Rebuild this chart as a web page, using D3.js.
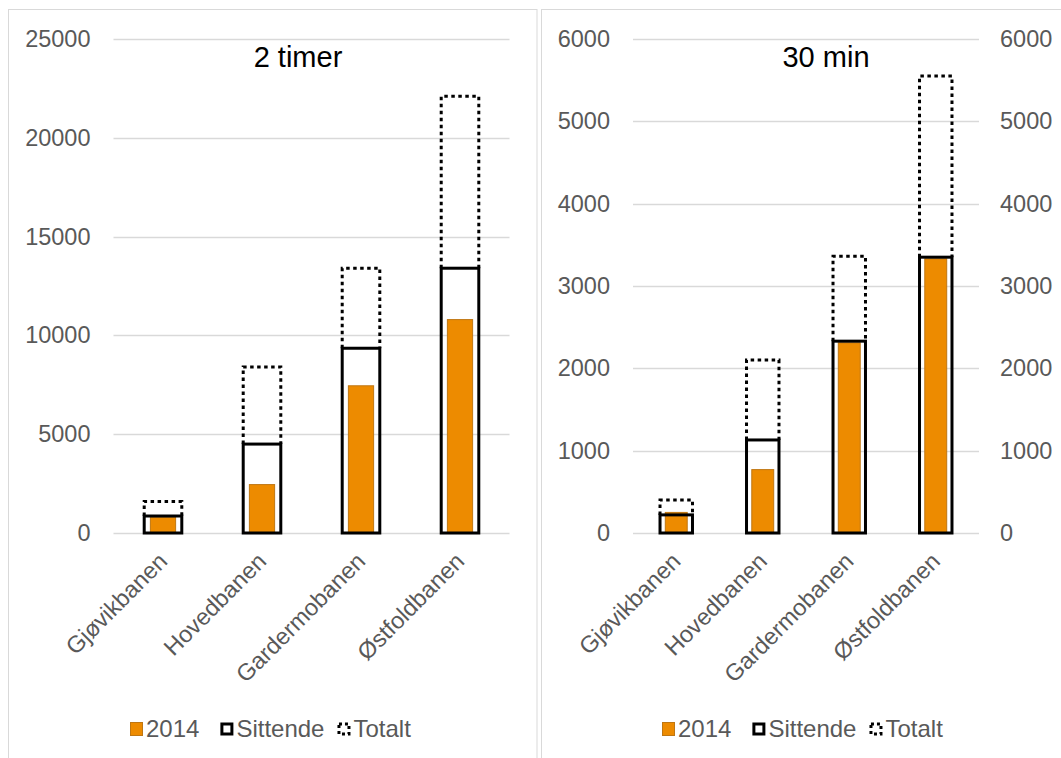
<!DOCTYPE html>
<html>
<head>
<meta charset="utf-8">
<script src="https://cdn.jsdelivr.net/npm/d3@7"></script>
<style>
  html, body { margin: 0; padding: 0; background: #fff; }
  svg { display: block; font-family: "Liberation Sans", Arial, sans-serif; }
</style>
</head>
<body>
<svg id="chart" width="1061" height="758"></svg>
<script>
// ---- Data ----
const categories = ["Gjøvikbanen", "Hovedbanen", "Gardermobanen", "Østfoldbanen"];
const seriesNames = ["2014", "Sittende", "Totalt"];

const timer2_2014     = [800, 2450, 7450, 10800];
const timer2_sittende = [860, 4500, 9350, 13400];
const timer2_totalt   = [1600, 8400, 13400, 22100];
const timer2_ticks    = [0, 5000, 10000, 15000, 20000, 25000];

const min30_2014      = [250, 770, 2310, 3330];
const min30_sittende  = [220, 1130, 2330, 3350];
const min30_totalt    = [400, 2100, 3360, 5550];
const min30_ticks     = [0, 1000, 2000, 3000, 4000, 5000, 6000];

const titles = ["2 timer", "30 min"];

// ---- Layout ----
const svg = d3.select("#chart");
const ORANGE = "#ED8B00", ORANGE_EDGE = "#BF7612";
const GRID = "#D9D9D9", TXT = "#595959";
const FONT = "Liberation Sans, Arial, sans-serif";

svg.append("rect").attr("x", 0).attr("y", 0).attr("width", 1061).attr("height", 758).attr("fill", "#fff");

const panels = [
  { box: [8.5, 9.5, 528.5, 770], plot: [113.5, 509.5], title: titles[0], titleX: 298,
    ticks: timer2_ticks, s2014: timer2_2014, sit: timer2_sittende, tot: timer2_totalt,
    rightAxis: false, legendX: 130 },
  { box: [541.5, 9.5, 540, 770], plot: [633, 979], title: titles[1], titleX: 826,
    ticks: min30_ticks, s2014: min30_2014, sit: min30_sittende, tot: min30_totalt,
    rightAxis: true, legendX: 662 }
];

const yTop = 39, yBottom = 533;

panels.forEach(p => {
  const g = svg.append("g");
  g.append("rect").attr("x", p.box[0]).attr("y", p.box[1]).attr("width", p.box[2]).attr("height", p.box[3])
    .attr("fill", "none").attr("stroke", GRID).attr("stroke-width", 1);

  const x = d3.scaleBand().domain(categories).range(p.plot).paddingInner(0).paddingOuter(0);
  const y = d3.scaleLinear().domain([0, d3.max(p.ticks)]).range([yBottom, yTop]);

  // gridlines
  g.append("g").selectAll("line").data(p.ticks).join("line")
    .attr("x1", p.plot[0]).attr("x2", p.plot[1])
    .attr("y1", d => Math.round(y(d)) + 0.5).attr("y2", d => Math.round(y(d)) + 0.5)
    .attr("stroke", GRID).attr("stroke-width", 1.3);

  // left axis
  const la = g.append("g").attr("transform", `translate(${p.plot[0]},0)`)
    .call(d3.axisLeft(y).tickValues(p.ticks).tickSize(0).tickPadding(23).tickFormat(d3.format("d")));
  la.select(".domain").remove();
  la.selectAll("text").attr("fill", TXT).style("font-size", "23.5px").style("font-family", FONT);

  if (p.rightAxis) {
    const ra = g.append("g").attr("transform", `translate(${p.plot[1]},0)`)
      .call(d3.axisRight(y).tickValues(p.ticks).tickSize(0).tickPadding(21).tickFormat(d3.format("d")));
    ra.select(".domain").remove();
    ra.selectAll("text").attr("fill", TXT).style("font-size", "23.5px").style("font-family", FONT);
  }

  // x axis labels
  const xa = g.append("g").attr("transform", `translate(0,${yBottom})`)
    .call(d3.axisBottom(x).tickSize(0).tickPadding(0));
  xa.select(".domain").remove();
  xa.selectAll("text")
    .attr("fill", TXT).style("font-size", "23.5px").style("font-family", FONT)
    .attr("text-anchor", "end")
    .attr("y", 0).attr("dy", "0.35em")
    .attr("transform", "translate(0,24) rotate(-45)");

  const bw = x.bandwidth();
  const outerW = bw * 0.41, innerW = bw * 0.265;

  // 2014 bars
  g.append("g").selectAll("rect").data(categories).join("rect")
    .attr("x", (c) => x(c) + bw / 2 - innerW / 2 + 0.5)
    .attr("width", innerW - 1)
    .attr("y", (c, i) => y(p.s2014[i]))
    .attr("height", (c, i) => yBottom - y(p.s2014[i]))
    .attr("fill", ORANGE).attr("stroke", ORANGE_EDGE).attr("stroke-width", 1);

  // Sittende outline
  g.append("g").selectAll("rect").data(categories).join("rect")
    .attr("x", (c) => x(c) + bw / 2 - outerW / 2 + 1.5)
    .attr("width", outerW - 3)
    .attr("y", (c, i) => y(p.sit[i]))
    .attr("height", (c, i) => yBottom - y(p.sit[i]))
    .attr("fill", "none").attr("stroke", "#000").attr("stroke-width", 3);

  // Totalt dotted outline
  g.append("g").selectAll("path").data(categories).join("path")
    .attr("d", (c, i) => {
      const x0 = x(c) + bw / 2 - outerW / 2 + 1.5, x1 = x0 + outerW - 3;
      const yt = y(p.tot[i]), ys = y(p.sit[i]);
      return `M${x0},${ys}V${yt}H${x1}V${ys}`;
    })
    .attr("fill", "none").attr("stroke", "#000").attr("stroke-width", 3)
    .attr("stroke-dasharray", "3.5,3.5");

  // title
  g.append("text").attr("x", p.titleX).attr("y", 67).attr("text-anchor", "middle")
    .attr("fill", "#000").style("font-size", "29px").text(p.title);

  // legend
  const lg = g.append("g").attr("transform", `translate(${p.legendX},729)`);
  const gaps = [21, 13, 0];
  let cx = 0;
  seriesNames.forEach((name, k) => {
    if (k === 0) {
      lg.append("rect").attr("x", cx + 0.5).attr("y", -6.5).attr("width", 12).attr("height", 13)
        .attr("fill", ORANGE).attr("stroke", ORANGE_EDGE).attr("stroke-width", 1);
    } else if (k === 1) {
      lg.append("rect").attr("x", cx + 1.5).attr("y", -5).attr("width", 10).attr("height", 10)
        .attr("fill", "#fff").attr("stroke", "#000").attr("stroke-width", 3);
    } else {
      lg.append("rect").attr("x", cx + 1.5).attr("y", -5).attr("width", 10).attr("height", 10)
        .attr("fill", "#fff").attr("stroke", "#000").attr("stroke-width", 3).attr("stroke-dasharray", "3,3");
    }
    const t = lg.append("text").attr("x", cx + 16).attr("y", 0).attr("dy", "0.35em")
      .attr("fill", TXT).style("font-size", "24px").text(name);
    cx += 16 + t.node().getComputedTextLength() + gaps[k];
  });
});
</script>
</body>
</html>
